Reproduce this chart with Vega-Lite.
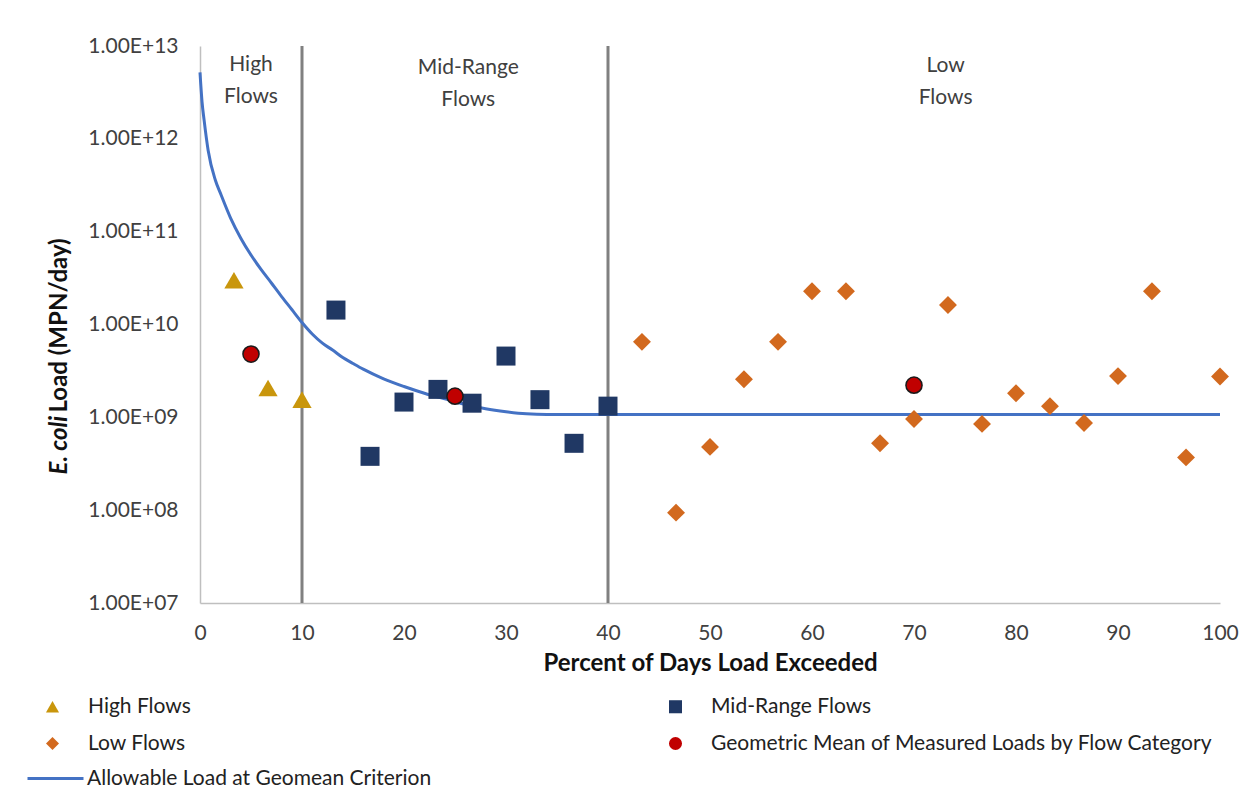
{
  "$schema": "https://vega.github.io/schema/vega-lite/v6.json",
  "width": 1020,
  "height": 557,
  "autosize": {"type": "none"},
  "padding": {"left": 200, "top": 46, "right": 35, "bottom": 192},
  "background": "white",
  "config": {
    "font": "Lato",
    "view": {"stroke": null},
    "axis": {"labelColor": "#404040", "titleColor": "#111111", "labelFont": "Lato", "titleFont": "Lato"},
    "legend": {"labelFont": "Lato", "labelColor": "#222222"}
  },
  "datasets": {
    "pts": [
      {"x": 3.33, "y": 3.0e10, "cat": "High Flows"},
      {"x": 6.67, "y": 2.07e9, "cat": "High Flows"},
      {"x": 10, "y": 1.55e9, "cat": "High Flows"},
      {"x": 13.33, "y": 1.43e10, "cat": "Mid-Range Flows"},
      {"x": 16.67, "y": 3.8e8, "cat": "Mid-Range Flows"},
      {"x": 20, "y": 1.46e9, "cat": "Mid-Range Flows"},
      {"x": 23.33, "y": 2.0e9, "cat": "Mid-Range Flows"},
      {"x": 26.67, "y": 1.42e9, "cat": "Mid-Range Flows"},
      {"x": 30, "y": 4.57e9, "cat": "Mid-Range Flows"},
      {"x": 33.33, "y": 1.55e9, "cat": "Mid-Range Flows"},
      {"x": 36.67, "y": 5.25e8, "cat": "Mid-Range Flows"},
      {"x": 40, "y": 1.32e9, "cat": "Mid-Range Flows"},
      {"x": 43.33, "y": 6.5e9, "cat": "Low Flows"},
      {"x": 46.67, "y": 9.4e7, "cat": "Low Flows"},
      {"x": 50, "y": 4.8e8, "cat": "Low Flows"},
      {"x": 53.33, "y": 2.57e9, "cat": "Low Flows"},
      {"x": 56.67, "y": 6.5e9, "cat": "Low Flows"},
      {"x": 60, "y": 2.28e10, "cat": "Low Flows"},
      {"x": 63.33, "y": 2.28e10, "cat": "Low Flows"},
      {"x": 66.67, "y": 5.25e8, "cat": "Low Flows"},
      {"x": 70, "y": 9.6e8, "cat": "Low Flows"},
      {"x": 73.33, "y": 1.62e10, "cat": "Low Flows"},
      {"x": 76.67, "y": 8.5e8, "cat": "Low Flows"},
      {"x": 80, "y": 1.82e9, "cat": "Low Flows"},
      {"x": 83.33, "y": 1.32e9, "cat": "Low Flows"},
      {"x": 86.67, "y": 8.7e8, "cat": "Low Flows"},
      {"x": 90, "y": 2.78e9, "cat": "Low Flows"},
      {"x": 93.33, "y": 2.28e10, "cat": "Low Flows"},
      {"x": 96.67, "y": 3.7e8, "cat": "Low Flows"},
      {"x": 100, "y": 2.75e9, "cat": "Low Flows"},
      {"x": 5, "y": 4.8e9, "cat": "Geometric Mean of Measured Loads by Flow Category"},
      {"x": 25, "y": 1.69e9, "cat": "Geometric Mean of Measured Loads by Flow Category"},
      {"x": 70, "y": 2.22e9, "cat": "Geometric Mean of Measured Loads by Flow Category"}
    ],
    "curve": [
      {"x": 0, "y": 5.2e12},
      {"x": 0.2, "y": 2.5e12},
      {"x": 0.4, "y": 1.6e12},
      {"x": 0.8, "y": 7.5e11},
      {"x": 1.5, "y": 3.6e11},
      {"x": 2, "y": 2.6e11},
      {"x": 3, "y": 1.4e11},
      {"x": 4, "y": 8.5e10},
      {"x": 5, "y": 5.6e10},
      {"x": 6, "y": 3.9e10},
      {"x": 7, "y": 2.8e10},
      {"x": 8, "y": 2.0e10},
      {"x": 9, "y": 1.45e10},
      {"x": 10, "y": 1.05e10},
      {"x": 11, "y": 7.9e9},
      {"x": 12, "y": 6.3e9},
      {"x": 13, "y": 5.3e9},
      {"x": 14, "y": 4.4e9},
      {"x": 15, "y": 3.8e9},
      {"x": 16, "y": 3.3e9},
      {"x": 18, "y": 2.6e9},
      {"x": 20, "y": 2.15e9},
      {"x": 22, "y": 1.82e9},
      {"x": 24, "y": 1.58e9},
      {"x": 26, "y": 1.38e9},
      {"x": 28, "y": 1.24e9},
      {"x": 30, "y": 1.15e9},
      {"x": 32, "y": 1.09e9},
      {"x": 34, "y": 1.07e9},
      {"x": 36, "y": 1.07e9},
      {"x": 40, "y": 1.07e9},
      {"x": 100, "y": 1.07e9}
    ],
    "dividers": [{"x": 10}, {"x": 40}],
    "labels": [
      {"x": 5, "y": 8.2e12, "label": "High\nFlows"},
      {"x": 26.3, "y": 7.6e12, "label": "Mid-Range\nFlows"},
      {"x": 73.1, "y": 8.0e12, "label": "Low\nFlows"}
    ]
  },
  "resolve": {"axis": {"y": "independent"}},
  "layer": [
    {
      "data": {"name": "dividers"},
      "mark": {"type": "rule", "color": "#808080", "strokeWidth": 3},
      "encoding": {
        "x": {"field": "x", "type": "quantitative", "scale": {"domain": [0, 100], "nice": false}}
      }
    },
    {
      "data": {"name": "curve"},
      "mark": {"type": "line", "strokeWidth": 3, "interpolate": "monotone"},
      "encoding": {
        "x": {"field": "x", "type": "quantitative"},
        "y": {"field": "y", "type": "quantitative", "scale": {"type": "log", "domain": [1e7, 1e13], "nice": false}, "axis": null},
        "stroke": {
          "datum": "Allowable Load at Geomean Criterion",
          "scale": {"range": ["#4472C4"]},
          "legend": {
            "title": null,
            "orient": "none",
            "legendX": -174,
            "legendY": 703,
            "padding": 0,
            "symbolType": "stroke",
            "symbolSize": 3136,
            "symbolStrokeWidth": 3,
            "labelOffset": 2,
            "labelFontSize": 21,
            "labelLimit": 600
          }
        }
      }
    },
    {
      "data": {"name": "pts"},
      "mark": {"type": "point", "filled": true, "opacity": 1, "strokeWidth": 1.5},
      "encoding": {
        "x": {
          "field": "x", "type": "quantitative",
          "axis": {
            "values": [0, 10, 20, 30, 40, 50, 60, 70, 80, 90, 100],
            "title": "Percent of Days Load Exceeded",
            "titleFontWeight": "bold",
            "titleFontSize": 24,
            "titlePadding": 8,
            "labelFontSize": 21,
            "labelPadding": 19,
            "labelFlush": false,
            "ticks": false,
            "tickSize": 0,
            "grid": false,
            "domainColor": "#BFBFBF",
            "domainWidth": 1.5
          }
        },
        "y": {
          "field": "y", "type": "quantitative",
          "axis": {
            "values": [1e7, 1e8, 1e9, 1e10, 1e11, 1e12, 1e13],
            "labelExpr": "'1.00E+' + (round(log(datum.value)/LN10) < 10 ? '0' : '') + round(log(datum.value)/LN10)",
            "labelFontSize": 21,
            "labelPadding": 22,
            "labelFlush": false,
            "ticks": false,
            "tickSize": 0,
            "grid": false,
            "domainColor": "#BFBFBF",
            "domainWidth": 1.5,
            "title": "Load (MPN/day)",
            "titleFontWeight": "bold",
            "titleFontSize": 24,
            "titleAngle": 270,
            "titleAlign": "left",
            "titleBaseline": "middle",
            "titleX": -141,
            "titleY": 366
          }
        },
        "fill": {
          "field": "cat", "type": "nominal",
          "scale": {
            "domain": ["High Flows", "Low Flows", "Mid-Range Flows", "Geometric Mean of Measured Loads by Flow Category"],
            "range": ["#C9960C", "#D2691E", "#203864", "#C00000"]
          },
          "legend": {
            "title": null,
            "orient": "none",
            "legendX": -158,
            "legendY": 650,
            "padding": 0,
            "columns": 2,
            "columnPadding": 474,
            "rowPadding": 15,
            "symbolSize": 170,
            "symbolStrokeWidth": 0,
            "labelOffset": 25,
            "labelFontSize": 21,
            "labelLimit": 600
          }
        },
        "shape": {
          "field": "cat", "type": "nominal",
          "scale": {
            "domain": ["High Flows", "Low Flows", "Mid-Range Flows", "Geometric Mean of Measured Loads by Flow Category"],
            "range": ["triangle-up", "diamond", "square", "circle"]
          }
        },
        "size": {
          "condition": [
            {"test": "datum.cat === 'Mid-Range Flows'", "value": 361},
            {"test": "datum.cat === 'Low Flows'", "value": 320},
            {"test": "datum.cat === 'Geometric Mean of Measured Loads by Flow Category'", "value": 260}
          ],
          "value": 370
        },
        "stroke": {
          "condition": {"test": "datum.cat === 'Geometric Mean of Measured Loads by Flow Category'", "value": "#1a1a1a"},
          "value": "transparent"
        }
      }
    },
    {
      "data": {"name": "labels"},
      "mark": {"type": "text", "fontSize": 21, "color": "#404040", "baseline": "top", "align": "center", "lineBreak": "\n", "lineHeight": 32},
      "encoding": {
        "x": {"field": "x", "type": "quantitative"},
        "y": {
          "field": "y", "type": "quantitative",
          "axis": {
            "orient": "left",
            "title": "E. coli",
            "labels": false,
            "ticks": false,
            "domain": false,
            "grid": false,
            "titleFontWeight": "bold",
            "titleFontStyle": "italic",
            "titleFontSize": 24,
            "titleAngle": 270,
            "titleAlign": "left",
            "titleBaseline": "middle",
            "titleX": -141,
            "titleY": 428
          }
        },
        "text": {"field": "label"}
      }
    }
  ]
}
